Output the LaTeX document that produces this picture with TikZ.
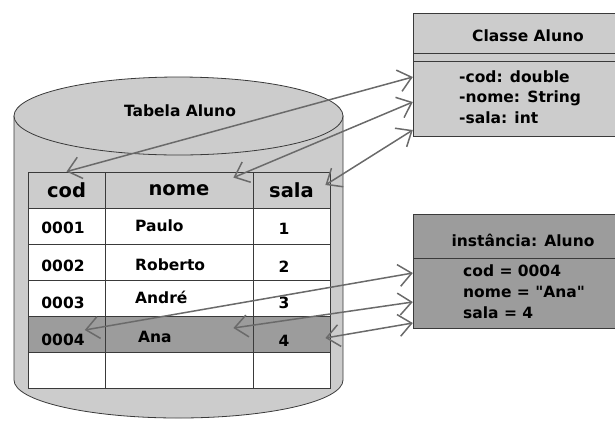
\documentclass[tikz,border=0pt]{standalone}
\usepackage{fontspec}
\setmainfont{DejaVu Sans}
\newfontfamily\retofont{DejaVu Sans}
\usetikzlibrary{arrows.meta}
\definecolor{claro}{HTML}{CCCCCC}
\definecolor{escuro}{HTML}{9C9C9C}
\definecolor{seta}{HTML}{6A6A6A}
\definecolor{borda}{HTML}{3A3A3A}
\tikzset{
  cell/.style={draw=borda, line width=0.8pt, minimum height=36pt, inner sep=0pt},
  txt/.style={font=\bfseries\fontsize{15.5}{18}\selectfont, inner sep=0pt},
  hdr/.style={font=\bfseries\fontsize{19.5}{22}\selectfont, inner sep=0pt},
  link/.style={draw=seta, line width=1.5pt,
    {Straight Barb[length=13pt,width=22pt]}-{Straight Barb[length=13pt,width=22pt]}},
}
\begin{document}
\begin{tikzpicture}[x=1pt,y=-1pt]
\useasboundingbox (0,0) rectangle (615,421);
\clip (0,0) rectangle (615,421);

% cilindro (tabela)
\filldraw[fill=claro, draw=borda, line width=0.8pt]
  (14,116) -- (14,380) arc[start angle=180, end angle=360, x radius=164.5pt, y radius=38pt]
  -- (343,116) -- cycle;
\filldraw[fill=claro, draw=borda, line width=0.8pt] (178.5,116) ellipse [x radius=164.5pt, y radius=39pt];
\node[txt] (tab) at (180,111) {Tabela Aluno};

% cabecalho
\node[cell, fill=claro, minimum width=77pt] (hcod) at (66.5,190) {};
\node[cell, fill=claro, minimum width=148pt] (hnome) at (179,190) {};
\node[cell, fill=claro, minimum width=77pt] (hsala) at (291.5,190) {};
\node[hdr] at (hcod) {cod};
\node[hdr] at (hnome) {nome};
\node[hdr] at (hsala) {sala};

% linhas
\node[cell, fill=white, minimum width=77pt] (r1cod) at (66.5,226) {};
\node[cell, fill=white, minimum width=148pt] (r1nome) at (179,226) {};
\node[cell, fill=white, minimum width=77pt] (r1sala) at (291.5,226) {};
\node[cell, fill=white, minimum width=77pt] (r2cod) at (66.5,262) {};
\node[cell, fill=white, minimum width=148pt] (r2nome) at (179,262) {};
\node[cell, fill=white, minimum width=77pt] (r2sala) at (291.5,262) {};
\node[cell, fill=white, minimum width=77pt] (r3cod) at (66.5,298) {};
\node[cell, fill=white, minimum width=148pt] (r3nome) at (179,298) {};
\node[cell, fill=white, minimum width=77pt] (r3sala) at (291.5,298) {};
\node[cell, fill=escuro, minimum width=77pt] (r4cod) at (66.5,334) {};
\node[cell, fill=escuro, minimum width=148pt] (r4nome) at (179,334) {};
\node[cell, fill=escuro, minimum width=77pt] (r4sala) at (291.5,334) {};
\node[cell, fill=white, minimum width=77pt] (r5cod) at (66.5,370) {};
\node[cell, fill=white, minimum width=148pt] (r5nome) at (179,370) {};
\node[cell, fill=white, minimum width=77pt] (r5sala) at (291.5,370) {};

\node[txt] (t1cod) at (63,228) {0001};
\node[txt, anchor=west] (t1nome) at (135,226) {Paulo};
\node[txt] (t1sala) at (284,229) {1};
\node[txt] (t2cod) at (63,266) {0002};
\node[txt, anchor=west] (t2nome) at (135,265) {Roberto};
\node[txt] (t2sala) at (284,267) {2};
\node[txt] (t3cod) at (63,303) {0003};
\node[txt, anchor=west] (t3nome) at (135,297) {André};
\node[txt] (t3sala) at (284,303) {3};
\node[txt] (t4cod) at (63,340) {0004};
\node[txt, anchor=west] (t4nome) at (138,337) {Ana};
\node[txt] (t4sala) at (284,341) {4};

% classe
\filldraw[fill=claro, draw=borda, line width=0.8pt] (413,13) rectangle (650,136);
\draw[borda, line width=1pt] (413,53) -- (650,53) (413,61) -- (650,61);
\node[txt] (ctit) at (528,36) {Classe Aluno};
\node[minimum width=237pt, minimum height=75pt, inner sep=0pt] (cattr) at (531.5,98.5) {};
\node[txt, anchor=west] (acod) at (459,77) {-cod: double};
\node[txt, anchor=west] (anome) at (459,98) {-nome: String};
\node[txt, anchor=west] (asala) at (459,118) {-sala: int};

% instancia
\filldraw[fill=escuro, draw=borda, line width=0.8pt] (413,214) rectangle (650,328);
\draw[borda, line width=1pt] (413,258) -- (650,258);
\node[txt] (itit) at (523,240) {instância: Aluno};
\node[minimum width=237pt, minimum height=70pt, inner sep=0pt] (iattr) at (531.5,293) {};
\node[txt, anchor=west] (icod) at (463,271) {cod = 0004};
\node[txt, anchor=west] (inome) at (463,292) {\retofont nome = "Ana"};
\node[txt, anchor=west] (isala) at (463,313) {sala = 4};

% setas
\draw[link] (hcod.north) -- (cattr.west |- acod);
\draw[link] ([shift={(-20,6)}]hnome.north east) -- ([yshift=-4pt]cattr.west |- anome);
\draw[link] ([shift={(-5,-5)}]hsala.east) -- ([yshift=-12pt]cattr.west |- asala);
\draw[link] ([yshift=10pt]t4cod.east) -- ([yshift=-2pt]iattr.west |- icod);
\draw[link] ([shift={(-20,-6)}]r4nome.east) -- ([yshift=-10pt]iattr.west |- inome);
\draw[link] ([shift={(-5,4)}]r4sala.east) -- ([yshift=-10pt]iattr.west |- isala);
\end{tikzpicture}
\end{document}
